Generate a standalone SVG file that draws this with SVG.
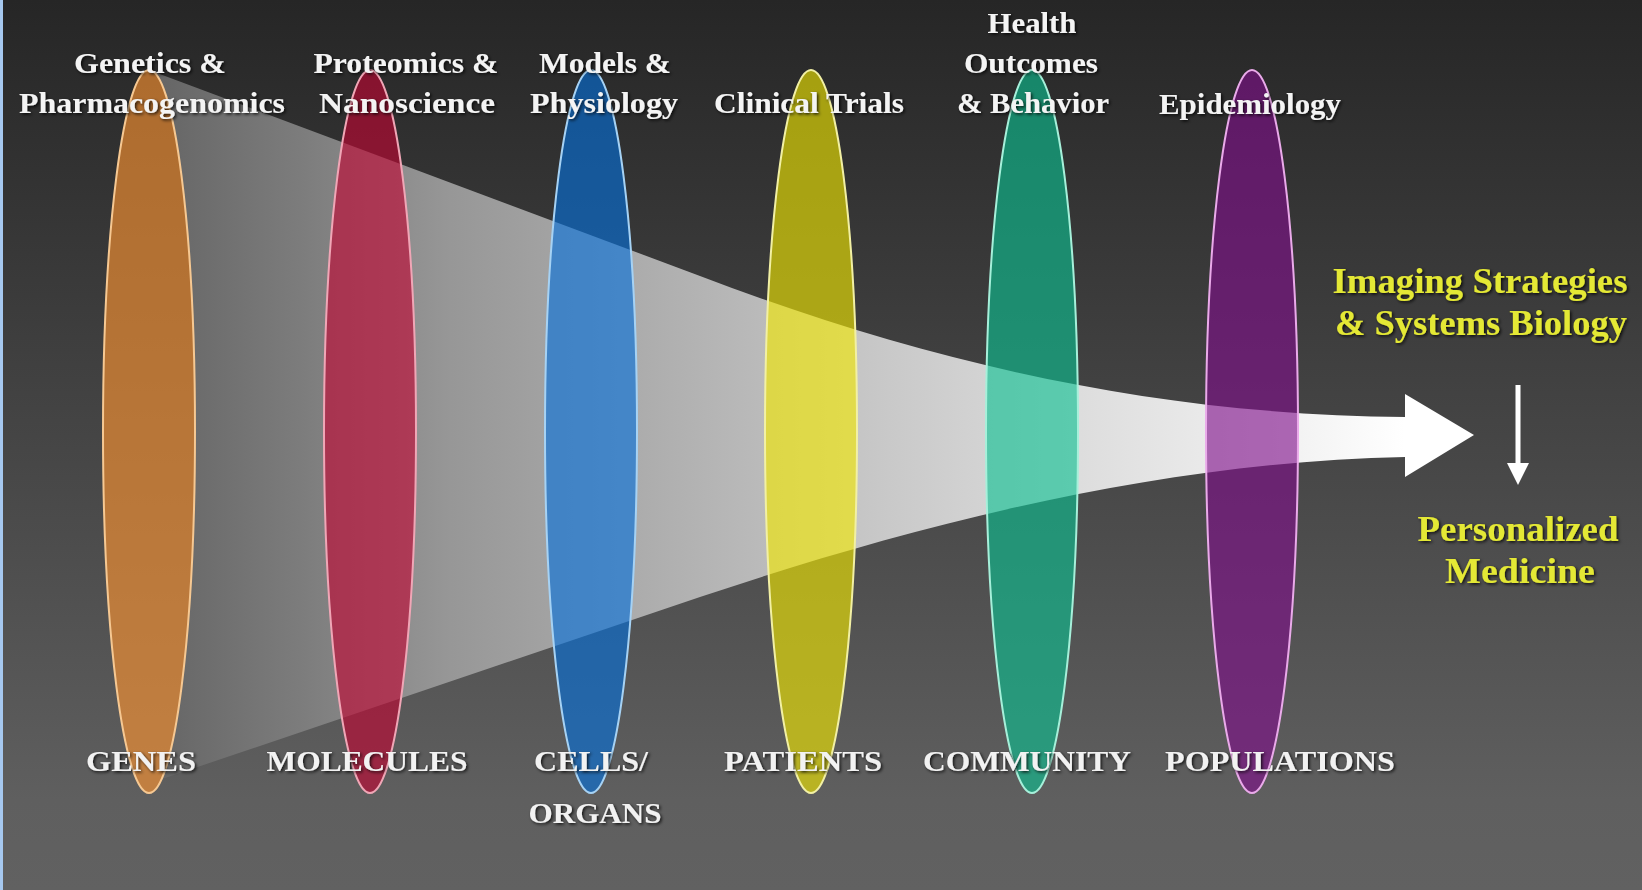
<svg xmlns="http://www.w3.org/2000/svg" width="1642" height="890" viewBox="0 0 1642 890">
<defs>
<linearGradient id="bg" x1="0" y1="0" x2="0" y2="890" gradientUnits="userSpaceOnUse">
<stop offset="0" stop-color="#262626"/>
<stop offset="0.9" stop-color="#5f5f5f"/>
<stop offset="1" stop-color="#616161"/>
</linearGradient>
<linearGradient id="funnel" x1="150" y1="0" x2="1474" y2="0" gradientUnits="userSpaceOnUse">
<stop offset="0" stop-color="#646464"/>
<stop offset="0.035" stop-color="#6c6c6c"/>
<stop offset="0.113" stop-color="#7c7c7c"/>
<stop offset="0.227" stop-color="#979797"/>
<stop offset="0.40" stop-color="#b1b1b1"/>
<stop offset="0.551" stop-color="#c8c8c8"/>
<stop offset="0.717" stop-color="#dfdfdf"/>
<stop offset="0.869" stop-color="#f3f3f3"/>
<stop offset="0.948" stop-color="#ffffff"/>
</linearGradient>
<filter id="shadow" x="-10%" y="-30%" width="120%" height="160%">
<feDropShadow dx="1.5" dy="1.5" stdDeviation="1.5" flood-color="#000" flood-opacity="0.8"/>
</filter>
</defs>
<style>
.ell{fill-opacity:0.62;stroke-width:2}
.lbl{font-family:"Liberation Serif","Times New Roman",serif;font-weight:bold;font-size:30px;fill:#f4f4f4;text-anchor:middle;filter:url(#shadow)}
.cap{font-family:"Liberation Serif","Times New Roman",serif;font-weight:bold;font-size:29px;fill:#f2f2f2;text-anchor:middle;filter:url(#shadow)}
.yl{font-family:"Liberation Serif","Times New Roman",serif;font-weight:bold;font-size:35px;fill:#e4e834;text-anchor:middle;filter:url(#shadow)}
</style>
<rect x="0" y="0" width="1642" height="890" fill="url(#bg)"/>
<rect x="0" y="0" width="3" height="890" fill="#a6c8ef"/>

<g id="connectors">
<path id="funnel-arrow" d="M149,70 L700,276 C920,360 1150,415 1405,417 L1405,394 L1474,435 L1405,477 L1405,457 C1150,462 900,530 700,597 L162,779 A46,361.5 0 0 0 149,70 Z" fill="url(#funnel)"/>
<g id="down-arrow" fill="#ffffff">
<rect x="1515.5" y="385" width="5" height="80"/>
<path d="M1507,463 L1529,463 L1518,485 Z"/>
</g>
</g>

<g id="genes">
<ellipse class="ell" cx="149" cy="431.5" rx="46" ry="361.5" fill="#ff9530" stroke="#f6c892"/>
<text class="lbl" x="150" y="73" textLength="152" lengthAdjust="spacingAndGlyphs">Genetics &amp;</text>
<text class="lbl" x="152" y="113" textLength="266" lengthAdjust="spacingAndGlyphs">Pharmacogenomics</text>
<text class="cap" x="141" y="771" textLength="110" lengthAdjust="spacingAndGlyphs">GENES</text>
</g>

<g id="molecules">
<ellipse class="ell" cx="370" cy="431.5" rx="46" ry="361.5" fill="#c00532" stroke="#f0a6b6"/>
<text class="lbl" x="406" y="73" textLength="185" lengthAdjust="spacingAndGlyphs">Proteomics &amp;</text>
<text class="lbl" x="407" y="113" textLength="176" lengthAdjust="spacingAndGlyphs">Nanoscience</text>
<text class="cap" x="367" y="771" textLength="201" lengthAdjust="spacingAndGlyphs">MOLECULES</text>
</g>

<g id="cells-organs">
<ellipse class="ell" cx="591" cy="431.5" rx="46" ry="361.5" fill="#0570da" stroke="#a6d2f4"/>
<text class="lbl" x="605" y="73" textLength="132" lengthAdjust="spacingAndGlyphs">Models &amp;</text>
<text class="lbl" x="604" y="113" textLength="148" lengthAdjust="spacingAndGlyphs">Physiology</text>
<text class="cap" x="591" y="771" textLength="114" lengthAdjust="spacingAndGlyphs">CELLS/</text>
<text class="cap" x="595" y="823" textLength="133" lengthAdjust="spacingAndGlyphs">ORGANS</text>
</g>

<g id="patients">
<ellipse class="ell" cx="811" cy="431.5" rx="46" ry="361.5" fill="#f2e800" stroke="#f2f0a4"/>
<text class="lbl" x="809" y="113" textLength="190" lengthAdjust="spacingAndGlyphs">Clinical Trials</text>
<text class="cap" x="803" y="771" textLength="158" lengthAdjust="spacingAndGlyphs">PATIENTS</text>
</g>

<g id="community">
<ellipse class="ell" cx="1032" cy="431.5" rx="46" ry="361.5" fill="#0cc091" stroke="#a6f0da"/>
<text class="lbl" x="1032" y="33" textLength="89" lengthAdjust="spacingAndGlyphs">Health</text>
<text class="lbl" x="1031" y="73" textLength="134" lengthAdjust="spacingAndGlyphs">Outcomes</text>
<text class="lbl" x="1033" y="113" textLength="152" lengthAdjust="spacingAndGlyphs">&amp; Behavior</text>
<text class="cap" x="1027" y="771" textLength="208" lengthAdjust="spacingAndGlyphs">COMMUNITY</text>
</g>

<g id="populations">
<ellipse class="ell" cx="1252" cy="431.5" rx="46" ry="361.5" fill="#7f0f8a" stroke="#eaaaea"/>
<text class="lbl" x="1250" y="114" textLength="182" lengthAdjust="spacingAndGlyphs">Epidemiology</text>
<text class="cap" x="1280" y="771" textLength="230" lengthAdjust="spacingAndGlyphs">POPULATIONS</text>
</g>

<g id="imaging">
<text class="yl" x="1480" y="293" textLength="295" lengthAdjust="spacingAndGlyphs">Imaging Strategies</text>
<text class="yl" x="1481" y="335" textLength="292" lengthAdjust="spacingAndGlyphs">&amp; Systems Biology</text>
</g>

<g id="personalized">
<text class="yl" x="1518" y="541" textLength="201" lengthAdjust="spacingAndGlyphs">Personalized</text>
<text class="yl" x="1520" y="583" textLength="150" lengthAdjust="spacingAndGlyphs">Medicine</text>
</g>
</svg>
